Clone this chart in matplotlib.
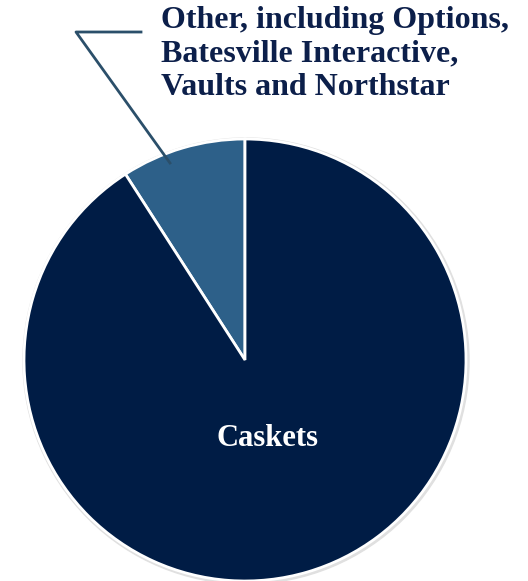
import matplotlib.pyplot as plt
from matplotlib.patches import Circle

# segment shares (%)
segments = ['Other, including Options,\nBatesville Interactive,\nVaults and Northstar', 'Caskets']
shares = [9.1, 90.9]
colors = ['#2d6089', '#001c45']

W, H = 528, 581
fig = plt.figure(figsize=(W / 100, H / 100), dpi=100)
ax = fig.add_axes([0, 0, 1, 1])
ax.set_xlim(0, W)
ax.set_ylim(0, H)
ax.set_aspect('equal')
ax.axis('off')

cx, cy, r = 245, H - 360, 221

# faint shadow rim
ax.add_patch(Circle((cx + 1, cy - 1), r + 2, color='#e0e0e0', zorder=0))

wedges, _ = ax.pie(shares, colors=colors, startangle=90, counterclock=True,
                   center=(cx, cy), radius=r, frame=True,
                   wedgeprops=dict(edgecolor='white', linewidth=2))
ax.set_xlim(0, W)
ax.set_ylim(0, H)
ax.axis('off')

# leader line for the small segment
ax.plot([141, 76, 170], [H - 32, H - 32, H - 163], color='#2b4f6a', lw=2, zorder=5)

ax.text(161, H - 6, segments[0], ha='left', va='top', fontsize=23,
        fontweight='bold', family='Liberation Serif', color='#0c1f4a',
        linespacing=1.21)
ax.text(268, H - 439, segments[1], ha='center', va='center', fontsize=22,
        fontweight='bold', family='Liberation Serif', color='white')

fig.savefig('out.png', dpi=100)
